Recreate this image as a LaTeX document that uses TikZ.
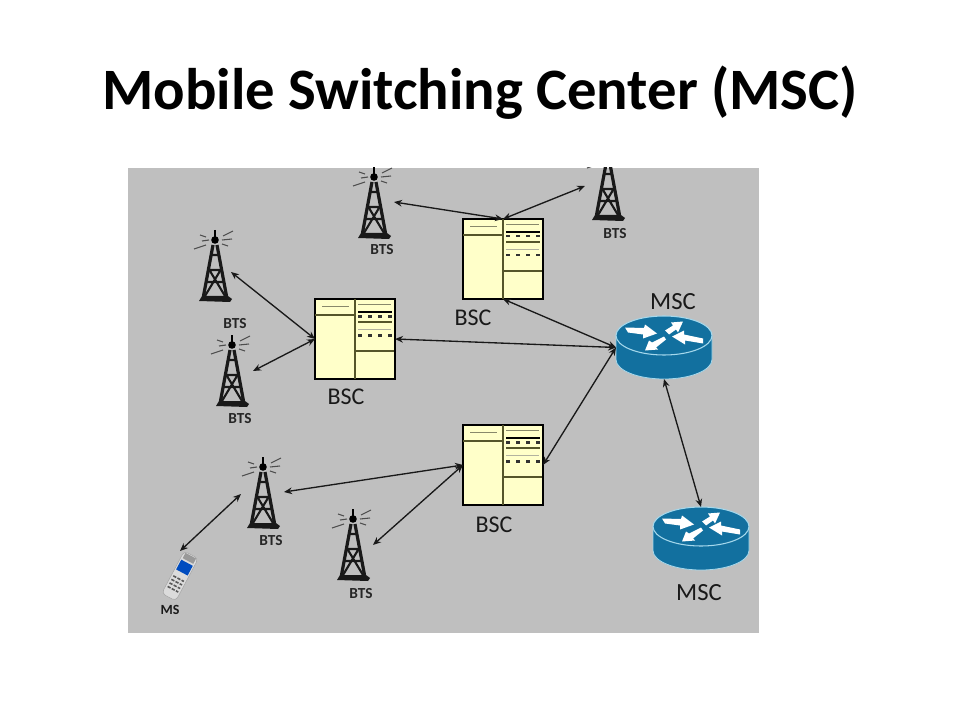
\documentclass[tikz,border=0pt]{standalone}
\usepackage{fontspec}
\setmainfont{Carlito}
\usetikzlibrary{arrows.meta}
\definecolor{panel}{HTML}{BFBFBF}
\definecolor{bscfill}{HTML}{FFFFC9}
\definecolor{bscline}{HTML}{55552A}
\definecolor{routerblue}{HTML}{12709F}
\definecolor{routeredge}{HTML}{A5D8EC}
\tikzset{
  x=0.75pt,y=-0.75pt,
  link/.style={draw=black!90,line width=1pt,{Stealth[length=6pt,width=5pt]}-{Stealth[length=6pt,width=5pt]}},
  bscbox/.style={draw=black,line width=1.2pt,fill=bscfill,minimum width=60pt,minimum height=60pt,inner sep=0pt,outer sep=0pt},
  routerbox/.style={minimum width=72pt,minimum height=47.25pt,inner sep=0pt,outer sep=0pt},
  titletext/.style={font=\fontsize{44}{50}\selectfont\bfseries,inner sep=0pt,text=black},
  btstext/.style={font=\fontsize{11.5}{13}\selectfont\bfseries,inner sep=0pt,text=black!85},
  bsctext/.style={font=\fontsize{18}{20}\selectfont,inner sep=0pt,text=black!90},
  msctext/.style={font=\fontsize{18.5}{20}\selectfont,inner sep=0pt,text=black!90},
  mstext/.style={font=\fontsize{10.5}{12}\selectfont\bfseries,inner sep=0pt,text=black!90},
  tower/.pic={
    \draw[black!90,line width=2.4pt,line join=round] (-2,-55) -- (-11.5,-4) (2,-55) -- (11.5,-4);
    \draw[black!90,line width=1.6pt] (-5.6,-30) -- (5.6,-30) (-8,-18) -- (8,-18)
       (-5.6,-30) -- (10,-4) (5.6,-30) -- (-10,-4) (-3.5,-45) -- (3.5,-45);
    \fill[black!90] (-16,1) -- (-13,-4) -- (13,-4) -- (17,-1) -- (15,2) -- cycle;
    \fill[black] (0,-60) circle (3.8);
    \draw[black,line width=0.9pt] (0,-70) -- (0,-60);
    \draw[black!70,line width=0.8pt] (-9,-63) -- (-15,-65) (-6,-60) -- (-13,-59) (-9,-55) -- (-21,-51)
       (8,-64) -- (18,-69) (7,-60) -- (17,-61) (7,-56) -- (13,-54);
  },
  bscinner/.pic={
    \draw[bscline,line width=0.9pt] (40,0) -- (40,80) (0,16) -- (40,16) (40,52) -- (79,52);
    \draw[bscline!70,line width=0.6pt] (7,7) -- (34,7) (43,5) -- (76,5);
    \draw[bscline!45,line width=0.6pt] (43,30) -- (76,30);
    \draw[black,line width=1.7pt] (43,13) -- (77,13);
    \draw[bscline,line width=1.5pt] (43,23) -- (77,23);
    \foreach \xx in {45,55,65,75}{
      \fill[black!80] (\xx-2,18.5) rectangle (\xx+2,16);
      \fill[black!80] (\xx-2,37.5) rectangle (\xx+2,35);
    }
  },
  routerpic/.pic={
    \fill[routerblue] (-48,-12) -- (-48,12) arc[start angle=180,end angle=0,x radius=48,y radius=19.5]
       -- (48,-12) -- cycle;
    \draw[routeredge,line width=0.6pt] (-48,-12) -- (-48,12) arc[start angle=180,end angle=0,x radius=48,y radius=19.5] -- (48,-12);
    \fill[routerblue] (0,-12) circle[x radius=48,y radius=19.5];
    \draw[routeredge,line width=0.8pt] (0,-12) circle[x radius=48,y radius=19.5];
    \begin{scope}[shift={(0,-12)}]
      \fill[white] (-39,-8) -- (-20,-7.5) -- (-19,-11) -- (-7,-2) -- (-21,3) -- (-21,-1) -- (-36,-3) -- cycle;
      \fill[white] (1,-5) -- (9,-10) -- (7,-13) -- (19,-14) -- (14,-3) -- (12,-6) -- (5,-1) -- cycle;
      \fill[white] (8,1) -- (20,-5) -- (20,-1) -- (39,3) -- (39,8) -- (21,5) -- (21,9) -- cycle;
      \fill[white] (0,1) -- (2,4) -- (-8,12) -- (-6,14) -- (-19,15) -- (-15,5) -- (-12,7) -- cycle;
    \end{scope}
  }
}
\begin{document}
\begin{tikzpicture}
\useasboundingbox (0,0) rectangle (960,720);
\fill[white] (0,0) rectangle (960,720);
\node[titletext] (title) at (480,93) {Mobile Switching Center (MSC)};
\fill[panel] (128,168) rectangle (759,633);

\begin{scope}
\clip (128,168) rectangle (759,633);
\pic at (215,300) {tower};
\pic at (232,405) {tower};
\pic at (374,237) {tower};
\pic at (608,219) {tower};
\pic at (263,527) {tower};
\pic at (353,579) {tower};
\end{scope}

\coordinate (t1p) at (231,272);
\coordinate (t2p) at (253,371);
\coordinate (t3p) at (394,202);
\coordinate (t4p) at (585,186);
\coordinate (t5a) at (241,494);
\coordinate (t5b) at (284,492);
\coordinate (t6p) at (373,545);
\coordinate (msp) at (180,551);

\node[bscbox] (b1) at (355,339) {};
\pic at (b1.north west) {bscinner};
\node[bscbox] (b2) at (503,259) {};
\pic at (b2.north west) {bscinner};
\node[bscbox] (b3) at (503,465) {};
\pic at (b3.north west) {bscinner};

\node[routerbox] (m1) at (664,347.5) {};
\pic at (m1.center) {routerpic};
\node[routerbox] (m2) at (701,538.5) {};
\pic at (m2.center) {routerpic};

% phone
\begin{scope}[shift={(180,576)},rotate=-28]
  \fill[white!86!black,draw=black!35,line width=0.4pt,rounded corners=3pt] (-8,-24) rectangle (8,24);
  \fill[blue!60!cyan!75!black] (-6.5,-15) rectangle (6.5,-4);
  \fill[black!40] (-6,-23) rectangle (6,-17);
  \foreach \yy in {3,7,11,15}{
    \draw[black!65,line width=1.2pt,dash pattern=on 2.5pt off 1pt] (-6,\yy) -- (6,\yy);
  }
\end{scope}

\node[btstext] (l1) at (235,324) {BTS};
\node[btstext] (l2) at (240,419) {BTS};
\node[btstext] (l3) at (382,250) {BTS};
\node[btstext] (l4) at (615,234) {BTS};
\node[btstext] (l5) at (271,541) {BTS};
\node[btstext] (l6) at (361,594) {BTS};
\node[mstext] (l7) at (170,610) {MS};
\node[bsctext] (l8) at (346,397) {BSC};
\node[bsctext] (l9) at (473,318) {BSC};
\node[bsctext] (l10) at (494,525) {BSC};
\node[msctext] (l11) at (673,302) {MSC};
\node[msctext] (l12) at (699,593) {MSC};

\draw[link] (t3p) -- (b2.north);
\draw[link] (t4p) -- (b2.north);
\draw[link] (b2.south) -- (m1.west);
\draw[link] (t1p) -- (b1.west);
\draw[link] (t2p) -- (b1.west);
\draw[link] (b1.east) -- (m1.west);
\draw[link] (b3.east) -- (m1.west);
\draw[link] (t5b) -- (b3.west);
\draw[link] (t6p) -- (b3.west);
\draw[link] (msp) -- (t5a);
\draw[link] (m1.south) -- (m2.north);
\end{tikzpicture}
\end{document}
